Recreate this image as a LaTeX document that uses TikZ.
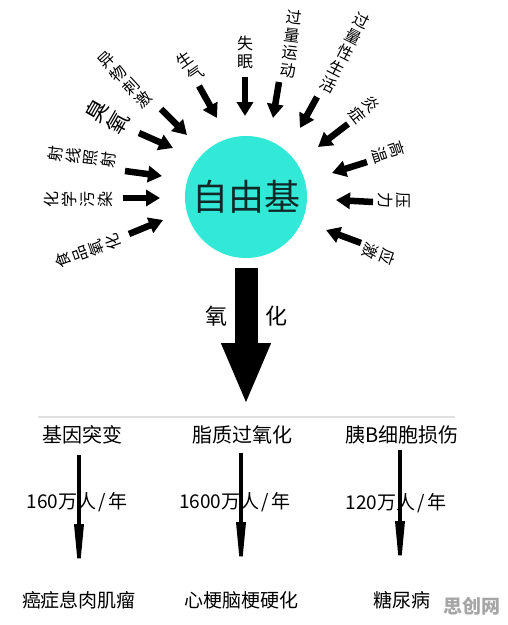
\documentclass[tikz,border=0pt]{standalone}
\usepackage{fontspec}
\newfontfamily\cjk{Noto Sans CJK SC}
\usetikzlibrary{arrows.meta}
\definecolor{turq}{RGB}{50,232,214}
\definecolor{darktxt}{RGB}{15,40,40}
\begin{document}
\begin{tikzpicture}[x=1pt,y=-1pt,
  lbl/.style={font=\cjk\fontsize{16}{18}\selectfont, align=center, inner sep=0pt},
  biglbl/.style={font=\cjk\fontsize{22}{24}\selectfont, align=center, inner sep=0pt},
  sarrow/.style={line width=6.5pt, -{Triangle[length=14pt,width=16pt]}},
  bigarrow/.style={line width=23pt, -{Triangle[length=62pt,width=45pt]}},
  tarrow/.style={line width=3.5pt, -{Triangle[length=56pt,width=9pt]}},
  rowlbl/.style={font=\cjk\fontsize{20}{20}\selectfont, inner sep=0pt},
  ratelbl/.style={font=\cjk\fontsize{19}{19}\selectfont, inner sep=0pt},
  botlbl/.style={font=\cjk\fontsize{19}{19}\selectfont, inner sep=0pt}]
\useasboundingbox[fill=white] (0,0) rectangle (508,625);

% central circle
\node[circle, fill=turq, minimum size=122pt, inner sep=0pt,
      font=\cjk\fontsize{36}{36}\selectfont, text=darktxt] (c) at (246,197) {自由基};

% labels around
\node[lbl] (l1) at (245,52) {失\\眠};
\node[lbl, rotate=-7] (l2) at (291,44) {过\\量\\运\\动};
\node[lbl, rotate=-27] (l3) at (345,53) {过\\量\\性\\生\\活};
\node[lbl, rotate=-52] (l4) at (364,110) {炎\\症};
\node[lbl, rotate=-72] (l5) at (388,152) {高\\温};
\node[lbl, rotate=-90] (l6) at (394,200) {压\\力};
\node[lbl, rotate=-110] (l7) at (379,254) {应\\激};
\node[lbl, rotate=35] (l8) at (190,67) {生\\气};
\node[lbl, rotate=43] (l9) at (125,80) {异\\物\\刺\\激};
\node[biglbl, rotate=60] (l10) at (107,117) {臭\\氧};
\node[lbl, rotate=83] (l11) at (82,157) {射\\线\\照\\射};
\node[lbl, rotate=90] (l12) at (78,199) {化\\学\\污\\染};
\node[lbl, rotate=110] (l13) at (88,251) {食\\品\\氧\\化};

% arrow end points
\coordinate (a1s) at (245,77);  \coordinate (a1e) at (245,116);
\coordinate (a2s) at (279,82);  \coordinate (a2e) at (273,118);
\coordinate (a3s) at (317,97);  \coordinate (a3e) at (300,128);
\coordinate (a4s) at (348,124); \coordinate (a4e) at (318,147);
\coordinate (a5s) at (367,162); \coordinate (a5e) at (332,173);
\coordinate (a6s) at (373,202); \coordinate (a6e) at (336,200);
\coordinate (a7s) at (361,243); \coordinate (a7e) at (326,230);
\coordinate (a8s) at (199,86);  \coordinate (a8e) at (217,118);
\coordinate (a9s) at (161,109); \coordinate (a9e) at (187,135);
\coordinate (a10s) at (139,133); \coordinate (a10e) at (173,148);
\coordinate (a11s) at (125,171); \coordinate (a11e) at (162,176);
\coordinate (a12s) at (123,198); \coordinate (a12e) at (160,198);
\coordinate (a13s) at (129,234); \coordinate (a13e) at (163,220);

\foreach \i in {1,...,13} {\draw[sarrow] (a\i s) -- (a\i e);}

% big arrow
\coordinate (bigtip) at (246,405);
\draw[bigarrow] ([yshift=-10pt]c.south) -- (bigtip);
\node[font=\cjk\fontsize{22}{22}\selectfont, inner sep=0pt] (ox1) at (216,316) {氧};
\node[font=\cjk\fontsize{22}{22}\selectfont, inner sep=0pt] (ox2) at (276,316) {化};

% separator
\coordinate (hl1) at (38,417); \coordinate (hl2) at (455,417);
\draw[black!12, line width=1.2pt] (hl1) -- (hl2);

% rows
\node[rowlbl] (r1) at (82,435) {基因突变};
\node[rowlbl] (r2) at (242,435) {脂质过氧化};
\node[rowlbl] (r3) at (402,435) {胰B细胞损伤};

\coordinate (t1s) at (79,455);  \coordinate (t1e) at (79,580);
\coordinate (t2s) at (241,453); \coordinate (t2e) at (241,578);
\coordinate (t3s) at (400,450); \coordinate (t3e) at (400,577);
\draw[tarrow] (t1s) -- (t1e);
\draw[tarrow] (t2s) -- (t2e);
\draw[tarrow] (t3s) -- (t3e);

\node[ratelbl] (n1) at (77,502) {160万人\hspace{2pt}/\hspace{3pt}年};
\node[ratelbl] (n2) at (235,502) {1600万人\hspace{2pt}/\hspace{3pt}年};
\node[ratelbl] (n3) at (396,503) {120万人\hspace{2pt}/\hspace{3pt}年};

\node[botlbl] (b1) at (79,600) {癌症息肉肌瘤};
\node[botlbl] (b2) at (241,600) {心梗脑梗硬化};
\node[botlbl] (b3) at (402,600) {糖尿病};

\node[font=\cjk\bfseries\fontsize{19}{19}\selectfont, text=black!35, inner sep=0pt] (wm) at (472,606) {思创网};
\end{tikzpicture}
\end{document}
